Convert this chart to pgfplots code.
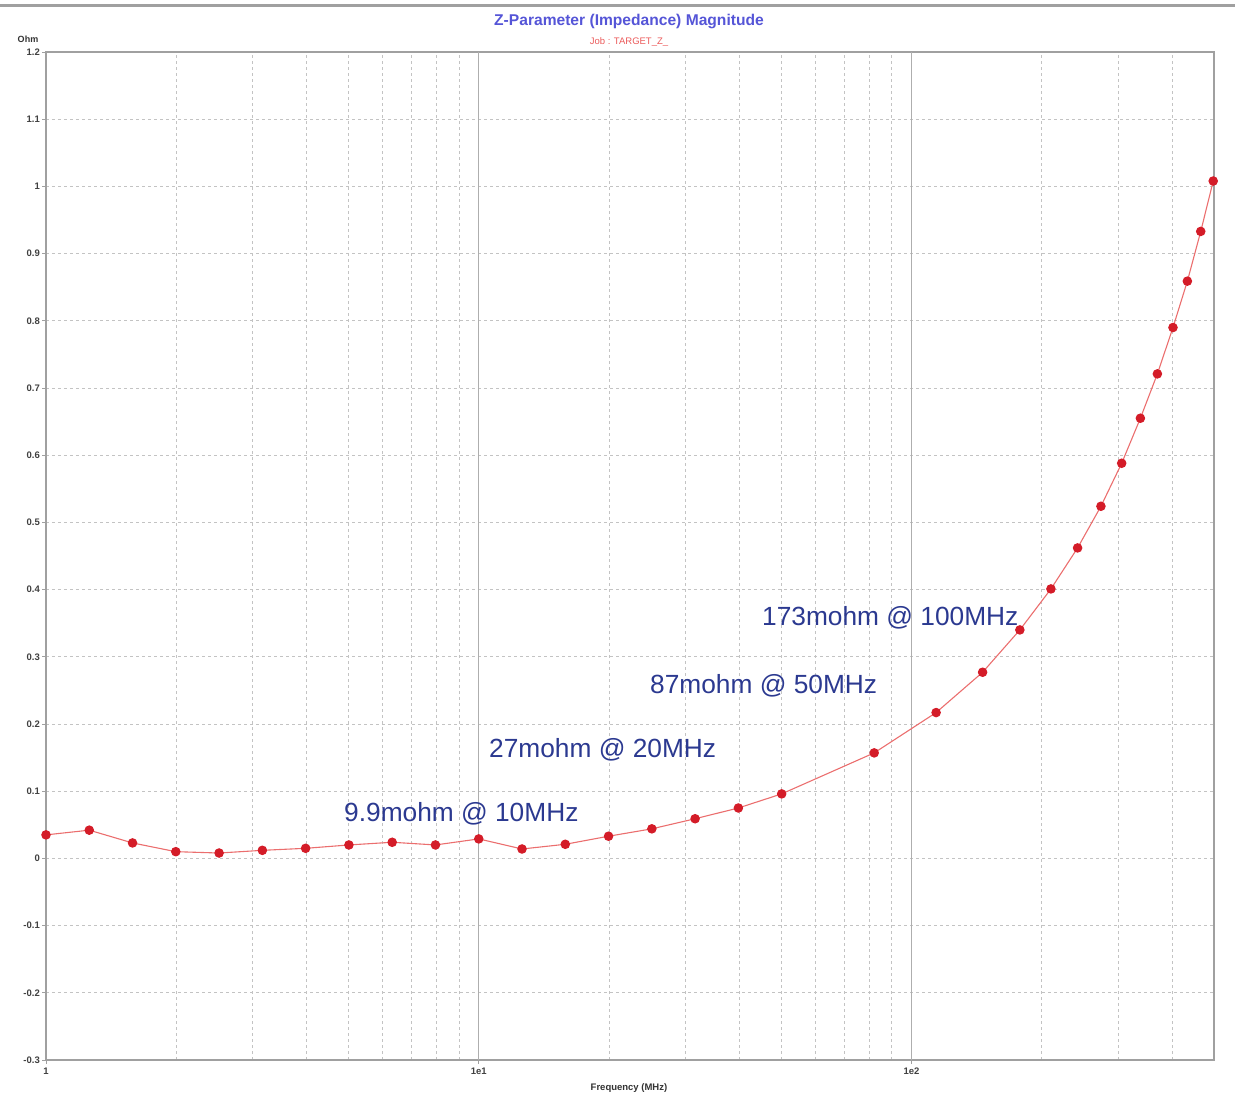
\documentclass[border=0pt]{standalone}
\usepackage{fontspec}
\setmainfont{Liberation Sans}
\usepackage{pgfplots}
\pgfplotsset{compat=1.18}
\definecolor{gridc}{RGB}{195,195,195}
\definecolor{axc}{RGB}{160,160,160}
\definecolor{titc}{RGB}{85,85,215}
\definecolor{subc}{RGB}{235,90,90}
\definecolor{annc}{RGB}{43,57,144}
\definecolor{linec}{RGB}{235,110,110}
\definecolor{markc}{RGB}{212,28,40}
\begin{document}
\begin{tikzpicture}
\path[use as bounding box] (-46pt,-35pt) rectangle (1189pt,1060pt);
\begin{axis}[
  at={(0pt,0pt)}, anchor=south west,
  scale only axis, width=1168pt, height=1008pt,
  xmode=log, xmin=1, xmax=500, ymin=-0.3, ymax=1.2,
  clip=false,
  axis line style={axc, line width=1.2pt},
  xtick={1,10,100}, xticklabels={1,1e1,1e2},
  minor xtick={2,3,4,5,6,7,8,9,20,30,40,50,60,70,80,90,200,300,400,500},
  ytick={-0.3,-0.2,-0.1,0,0.1,0.2,0.3,0.4,0.5,0.6,0.7,0.8,0.9,1,1.1,1.2},
  yticklabels={-0.3,-0.2,-0.1,0,0.1,0.2,0.3,0.4,0.5,0.6,0.7,0.8,0.9,1,1.1,1.2},
  xminorgrids, ymajorgrids,
  major grid style={gridc, dash pattern=on 3pt off 3pt, line width=0.8pt},
  minor grid style={gridc, dash pattern=on 3pt off 3pt, line width=0.8pt},
  tick align=outside, major tick length=4pt, minor tick length=0pt,
  xtick pos=bottom, ytick pos=left,
  tick style={axc, line width=0.8pt},
  /pgf/number format/assume math mode=true,
  yticklabel style={font=\bfseries\fontsize{9.5}{11}\selectfont, text=black!75, inner sep=0pt, xshift=-2pt},
  xticklabel style={font=\bfseries\fontsize{9.5}{11}\selectfont, text=black!75, inner sep=0pt, yshift=-4pt},
]
\draw[axc!85, line width=1pt] (axis cs:10,-0.3) -- (axis cs:10,1.2);
\draw[axc!85, line width=1pt] (axis cs:100,-0.3) -- (axis cs:100,1.2);
\addplot[linec, line width=1.1pt, mark=*, mark size=4.2pt, mark options={fill=markc, draw=markc}] coordinates {
(1,0.035) (1.2589,0.042) (1.5849,0.023) (1.9953,0.010) (2.5119,0.008)
(3.1623,0.012) (3.9811,0.015) (5.0119,0.020) (6.3096,0.024) (7.9433,0.020)
(10,0.029) (12.589,0.014) (15.849,0.021) (19.953,0.033) (25.119,0.044)
(31.623,0.059) (39.811,0.075) (50.119,0.096) (82,0.157) (114,0.217)
(146,0.277) (178,0.340) (210,0.401) (242,0.462) (274,0.524)
(306,0.588) (338,0.655) (370,0.721) (402,0.790) (434,0.859)
(466,0.933) (498,1.008)
};
\end{axis}
\draw[axc, line width=3pt] (-46pt,1054pt) -- (1189pt,1054pt);
\node[font=\bfseries\fontsize{15.6}{18}\selectfont, text=titc] at (583pt,1038pt) {Z-Parameter (Impedance) Magnitude};
\node[font=\fontsize{9.5}{11}\selectfont, text=subc] at (583pt,1018pt) {Job : TARGET\_Z\_};
\node[font=\bfseries\fontsize{9}{11}\selectfont, text=black!80] at (-18pt,1021pt) {Ohm};
\node[font=\bfseries\fontsize{9.5}{11}\selectfont, text=black!80] at (583pt,-28pt) {Frequency (MHz)};
\node[anchor=west, inner sep=0pt, font=\fontsize{26.3}{30}\selectfont, text=annc] at (298pt,246pt) {9.9mohm @ 10MHz};
\node[anchor=west, inner sep=0pt, font=\fontsize{26.3}{30}\selectfont, text=annc] at (443pt,310pt) {27mohm @ 20MHz};
\node[anchor=west, inner sep=0pt, font=\fontsize{26.3}{30}\selectfont, text=annc] at (604pt,374pt) {87mohm @ 50MHz};
\node[anchor=west, inner sep=0pt, font=\fontsize{26.3}{30}\selectfont, text=annc] at (716pt,442pt) {173mohm @ 100MHz};
\end{tikzpicture}
\end{document}
